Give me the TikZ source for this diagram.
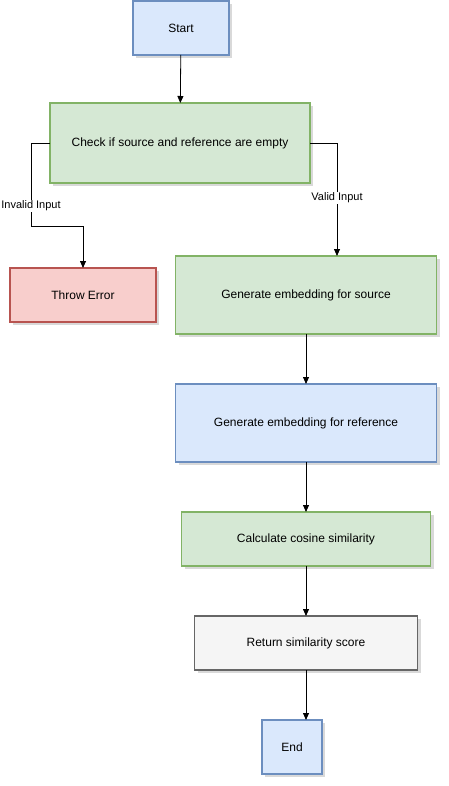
\documentclass[tikz,border=0pt]{standalone}
\usepackage{fontspec}
\setmainfont{Liberation Sans}
\usetikzlibrary{arrows.meta,shadows}

\definecolor{bluefill}{HTML}{DAE8FC}
\definecolor{blueline}{HTML}{6C8EBF}
\definecolor{greenfill}{HTML}{D5E8D4}
\definecolor{greenline}{HTML}{82B366}
\definecolor{redfill}{HTML}{F8CECC}
\definecolor{redline}{HTML}{B85450}
\definecolor{grayfill}{HTML}{F5F5F5}
\definecolor{grayline}{HTML}{666666}

\tikzset{
  box/.style={draw, line width=1.5pt, inner sep=0pt, outer sep=0pt,
    font=\fontsize{12}{14}\selectfont,
    drop shadow={opacity=0.3, shadow xshift=3pt, shadow yshift=-3pt}},
  bluebox/.style={box, fill=bluefill, draw=blueline},
  greenbox/.style={box, fill=greenfill, draw=greenline},
  redbox/.style={box, fill=redfill, draw=redline},
  graybox/.style={box, fill=grayfill, draw=grayline},
  arr/.style={-{Triangle[length=7pt,width=6pt]}, line width=0.8pt},
  lbl/.style={fill=white, inner sep=1pt, font=\fontsize{11}{13}\selectfont}
}

\begin{document}
\begin{tikzpicture}[x=1pt, y=-1pt]

    % Area
    \useasboundingbox (0,0) rectangle (448,786);

    % Blocchi
    \node[bluebox, minimum width=96pt, minimum height=54pt] (start) at (181,28) {Start};
    \node[greenbox, minimum width=260pt, minimum height=80pt] (check) at (180,143) {Check if source and reference are empty};
    \node[redbox, minimum width=146pt, minimum height=54pt] (err) at (83,295) {Throw Error};
    \node[greenbox, minimum width=261pt, minimum height=78pt] (gsrc) at (306,295) {Generate embedding for source};
    \node[bluebox, minimum width=261pt, minimum height=78pt] (gref) at (306,423) {Generate embedding for reference};
    \node[greenbox, minimum width=249pt, minimum height=54pt] (cosine) at (306,539) {Calculate cosine similarity};
    \node[graybox, minimum width=223pt, minimum height=54pt] (ret) at (306,643) {Return similarity score};
    \node[bluebox, minimum width=60pt, minimum height=54pt] (fin) at (292,747) {End};

    % Punti di piega
    \coordinate (ileft) at (31,226);

    % Frecce
    \draw[arr] (start) -- (check);
    \draw[arr] (check.west) -| (ileft) -- (err.north |- ileft) -- (err.north);
    \draw[arr] (check.east) -| ([xshift=31pt]gsrc.north);
    \draw[arr] (gsrc) -- (gref);
    \draw[arr] (gref) -- (cosine);
    \draw[arr] (cosine) -- (ret);
    \draw[arr] (ret.south) -- ([xshift=14pt]fin.north);

    % Etichette
    \node[lbl] (linvalid) at (31,206) {Invalid Input};
    \node[lbl] (lvalid) at (337,198) {Valid Input};

\end{tikzpicture}
\end{document}
